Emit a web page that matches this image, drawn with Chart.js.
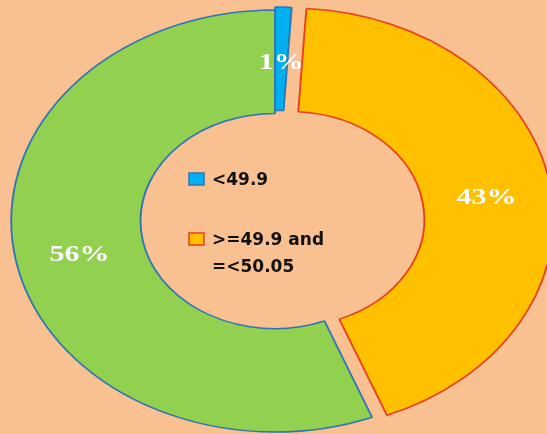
<!DOCTYPE html>
<html>
<head>
<meta charset="utf-8">
<script src="https://cdn.jsdelivr.net/npm/chart.js@4/dist/chart.umd.min.js"></script>
<style>
  html, body { margin: 0; padding: 0; background: #F9C091; }
  canvas { display: block; }
</style>
</head>
<body>
<canvas id="pie" width="547" height="434"></canvas>
<script>
// chart data
const categories = ["<49.9", ">=49.9 and =<50.05", ">50.05"];
const shares = [1, 43, 56];
const sliceLabels = ["1%", "43%", "56%"];
const sliceColors = ["#00B0F0", "#FFC000", "#92D050"];
const sliceBorders = ["#2E75B6", "#E8401C", "#2E75B6"];
const explode = [3, 12, 0];
const legendCount = 2;

// the picture is an ellipse: stretch the ring sideways
const stretchX = 1.25;

/**
 * Shift an arc outward along its middle angle (pie "explode").
 */
const baseArcDraw = Chart.ArcElement.prototype.draw;
Chart.ArcElement.prototype.draw = function (ctx, area) {
  const shift = this.$shift || 0;
  const mid = (this.startAngle + this.endAngle) / 2;
  ctx.save();
  ctx.translate(Math.cos(mid) * shift, Math.sin(mid) * shift);
  baseArcDraw.call(this, ctx, area);
  ctx.restore();
};

const ellipsePlugin = {
  id: "ellipse",
  afterDatasetsUpdate(chart) {
    chart.getDatasetMeta(0).data.forEach((arc, i) => {
      arc.$shift = explode[i] || 0;
    });
  },
  beforeDatasetsDraw(chart) {
    const arc = chart.getDatasetMeta(0).data[0];
    const ctx = chart.ctx;
    ctx.save();
    ctx.translate(arc.x, arc.y);
    ctx.scale(stretchX, 1);
    ctx.translate(-arc.x, -arc.y);
  },
  afterDatasetsDraw(chart) {
    const ctx = chart.ctx;
    const arcs = chart.getDatasetMeta(0).data;
    // percentage labels, stretched like the ring
    ctx.font = "bold 24px 'Liberation Serif', 'Times New Roman', serif";
    ctx.fillStyle = "#FFFFFF";
    ctx.textAlign = "center";
    ctx.textBaseline = "middle";
    arcs.forEach((arc, i) => {
      const mid = (arc.startAngle + arc.endAngle) / 2;
      const r = (arc.innerRadius + arc.outerRadius) / 2 + arc.$shift;
      ctx.fillText(sliceLabels[i], arc.x + Math.cos(mid) * r, arc.y + Math.sin(mid) * r + 4);
    });
    ctx.restore();
  },
  afterDraw(chart) {
    // legend sits inside the hole
    const ctx = chart.ctx;
    const arc = chart.getDatasetMeta(0).data[0];
    const left = arc.x - 86;
    let top = arc.y - 48;
    ctx.save();
    ctx.font = "bold 17px 'DejaVu Sans', Verdana, sans-serif";
    ctx.textAlign = "left";
    ctx.textBaseline = "alphabetic";
    for (let i = 0; i < legendCount; i++) {
      ctx.fillStyle = sliceColors[i];
      ctx.strokeStyle = sliceBorders[i];
      ctx.lineWidth = 1.5;
      ctx.fillRect(left, top, 15, 12);
      ctx.strokeRect(left, top, 15, 12);
      ctx.fillStyle = "#111111";
      const words = categories[i].split(" ");
      let line = "";
      let y = top + 12;
      words.forEach((w) => {
        const test = line ? line + " " + w : w;
        if (line && ctx.measureText(test).width > 130) {
          ctx.fillText(line, left + 23, y);
          line = w;
          y += 27;
        } else {
          line = test;
        }
      });
      ctx.fillText(line, left + 23, y);
      top += 60;
    }
    ctx.restore();
  },
};

new Chart(document.getElementById("pie").getContext("2d"), {
  type: "doughnut",
  data: {
    labels: categories,
    datasets: [
      {
        data: shares,
        backgroundColor: sliceColors,
        borderColor: sliceBorders,
        borderWidth: 1.5,
      },
    ],
  },
  options: {
    responsive: false,
    animation: false,
    events: [],
    radius: 211,
    cutout: "51%",
    layout: { padding: { left: 3, top: 8, right: 0, bottom: 0 } },
    plugins: {
      legend: { display: false },
      tooltip: { enabled: false },
    },
  },
  plugins: [ellipsePlugin],
});
</script>
</body>
</html>
